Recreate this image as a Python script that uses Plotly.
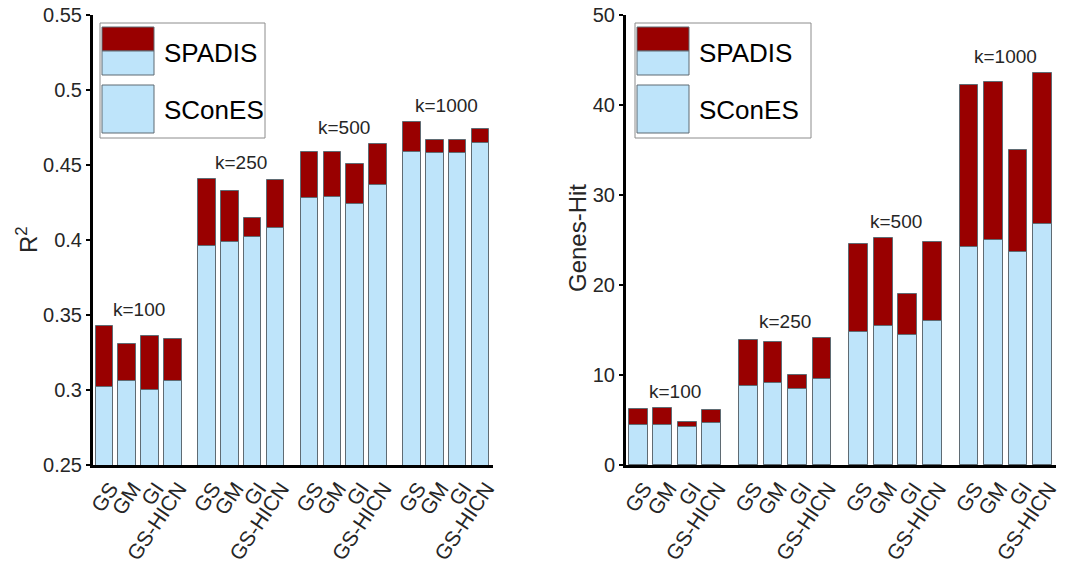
import plotly.graph_objects as go

W, H = 1067, 565

groups = ["k=100", "k=250", "k=500", "k=1000"]
methods = ["GS", "GM", "GI", "GS-HICN"]

# R^2 values (left panel), per group, per method
r2_spadis = [
    [0.343, 0.331, 0.336, 0.334],
    [0.441, 0.433, 0.415, 0.440],
    [0.459, 0.459, 0.451, 0.464],
    [0.479, 0.467, 0.467, 0.474],
]
r2_scones = [
    [0.302, 0.306, 0.300, 0.306],
    [0.396, 0.399, 0.402, 0.408],
    [0.428, 0.429, 0.424, 0.437],
    [0.459, 0.458, 0.458, 0.465],
]

# Genes-Hit values (right panel)
gh_spadis = [
    [6.2, 6.3, 4.8, 6.1],
    [13.9, 13.7, 10.0, 14.1],
    [24.6, 25.2, 19.0, 24.8],
    [42.2, 42.6, 35.0, 43.6],
]
gh_scones = [
    [4.4, 4.5, 4.2, 4.7],
    [8.8, 9.1, 8.5, 9.6],
    [14.8, 15.4, 14.4, 16.0],
    [24.2, 25.0, 23.7, 26.8],
]

RED = "#990000"
BLUE = "#BEE4FA"
EDGE = "#5f6b73"
TXT = "#262626"
FONT = "Liberation Sans, Arial, sans-serif"

# bar positions: 4 bars per group, 0.5 gap between groups
xpos = [g * 4.5 + i + 1 for g in range(len(groups)) for i in range(len(methods))]
xlabels = [m for g in groups for m in methods]


def flat(a):
    return [v for row in a for v in row]


fig = go.Figure()
panels = [("x", "y", r2_spadis, r2_scones), ("x2", "y2", gh_spadis, gh_scones)]
for xa, ya, sp, sc in panels:
    fig.add_trace(go.Bar(x=xpos, y=flat(sp), width=0.77, xaxis=xa, yaxis=ya,
                         marker=dict(color=RED, line=dict(color=EDGE, width=1)),
                         name="SPADIS", showlegend=False))
    fig.add_trace(go.Bar(x=xpos, y=flat(sc), width=0.77, xaxis=xa, yaxis=ya,
                         marker=dict(color=BLUE, line=dict(color=EDGE, width=1)),
                         name="SConES", showlegend=False))
    # group labels
    for g, lab in enumerate(groups):
        xc = g * 4.5 + 2.5
        fig.add_annotation(x=xc, y=max(sp[g]), xref=xa, yref=ya, text=lab,
                           showarrow=False, yanchor="bottom", yshift=4,
                           font=dict(size=19, color=TXT, family=FONT))


def px_x(p):
    return p / W


def px_y(p):
    return 1 - p / H


ydom = [px_y(465), px_y(15)]
axis_common = dict(showline=True, linecolor="black", linewidth=3, showgrid=False,
                   zeroline=False, automargin=False)
yfont = dict(size=20, color=TXT, family=FONT)
xfont = dict(size=21, color=TXT, family=FONT)
xcommon = dict(range=[0.5, 18.05], tickvals=xpos, ticktext=xlabels, tickangle=-56,
               ticks="", tickfont=xfont, ticklabelshift=6)
fig.update_layout(
    width=W, height=H, margin=dict(l=0, r=0, t=0, b=0, autoexpand=False),
    paper_bgcolor="white", plot_bgcolor="white", barmode="overlay",
    bargap=0,
    xaxis=dict(domain=[px_x(93), px_x(493)], anchor="y", **xcommon, **axis_common),
    yaxis=dict(domain=ydom, range=[0.25, 0.55], dtick=0.05, ticks="outside",
               ticklen=4, tickwidth=2, tickcolor="black", anchor="x", tickfont=yfont,
               **axis_common),
    xaxis2=dict(domain=[px_x(626), px_x(1056)], anchor="y2", **xcommon, **axis_common),
    yaxis2=dict(domain=ydom, range=[0, 50], dtick=10, ticks="outside",
                ticklen=4, tickwidth=2, tickcolor="black", anchor="x2", tickfont=yfont,
                **axis_common),
)

# y-axis titles
fig.add_annotation(x=px_x(10), y=px_y(240), xref="paper", yref="paper", text="R<sup>2</sup>",
                   textangle=-90, showarrow=False, font=dict(size=24, color=TXT, family=FONT))
fig.add_annotation(x=px_x(577), y=px_y(238), xref="paper", yref="paper", text="Genes-Hit",
                   textangle=-90, showarrow=False, font=dict(size=24, color=TXT, family=FONT))

# custom legends (two-tone swatch for SPADIS)
shapes = []
for ox in (0, 535):
    bx0, bx1 = 100 + ox, 265 + ox + (11 if ox else 0)
    shapes.append(dict(type="rect", xref="paper", yref="paper",
                       x0=px_x(bx0), x1=px_x(bx1), y0=px_y(138), y1=px_y(23),
                       line=dict(color="#8c8c8c", width=1), fillcolor="white", layer="above"))
    sx0, sx1 = 102 + ox, 154 + ox
    shapes.append(dict(type="rect", xref="paper", yref="paper",
                       x0=px_x(sx0), x1=px_x(sx1), y0=px_y(51), y1=px_y(27),
                       line=dict(color=EDGE, width=1), fillcolor=RED, layer="above"))
    shapes.append(dict(type="rect", xref="paper", yref="paper",
                       x0=px_x(sx0), x1=px_x(sx1), y0=px_y(75), y1=px_y(51),
                       line=dict(color=EDGE, width=1), fillcolor=BLUE, layer="above"))
    shapes.append(dict(type="rect", xref="paper", yref="paper",
                       x0=px_x(sx0), x1=px_x(sx1), y0=px_y(133), y1=px_y(85),
                       line=dict(color=EDGE, width=1), fillcolor=BLUE, layer="above"))
    for txt, yy in (("SPADIS", 53), ("SConES", 110)):
        fig.add_annotation(x=px_x(162 + ox), y=px_y(yy), xref="paper", yref="paper",
                           text=txt, showarrow=False, xanchor="left", yanchor="middle",
                           font=dict(size=26, color="black", family=FONT))
fig.update_layout(shapes=shapes)

fig.write_html("out.html", config={"displayModeBar": False},
               post_script="document.body.style.margin='0';document.body.style.overflow='hidden';")
